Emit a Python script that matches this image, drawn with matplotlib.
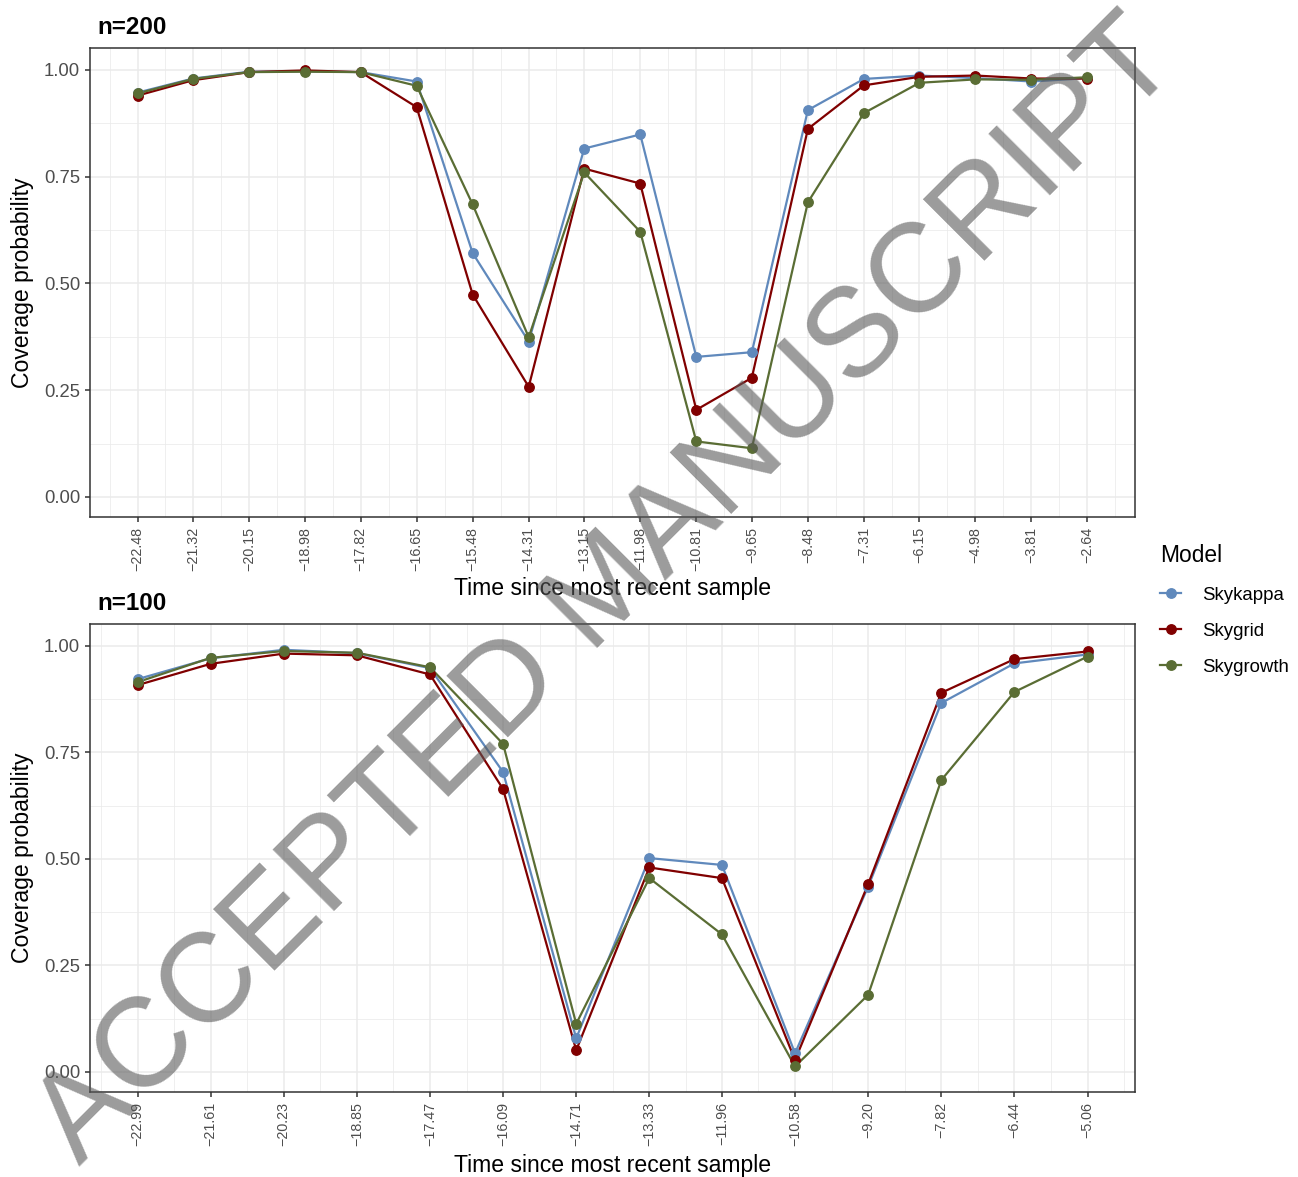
import numpy as np
import matplotlib
matplotlib.use('Agg')
import matplotlib.pyplot as plt
from matplotlib.lines import Line2D

plt.rcParams['font.family'] = ['Liberation Sans', 'DejaVu Sans']
plt.rcParams['axes.unicode_minus'] = True

models = ['Skykappa', 'Skygrid', 'Skygrowth']
colors = ['#6089BC', '#800000', '#5A6D34']

# n=200 panel
times_200 = [-22.48, -21.32, -20.15, -18.98, -17.82, -16.65, -15.48, -14.31, -13.15,
             -11.98, -10.81, -9.65, -8.48, -7.31, -6.15, -4.98, -3.81, -2.64]
tick_labels_200 = ['\u221222.48', '\u221221.32', '\u221220.15', '\u221218.98', '\u221217.82',
                   '\u221216.65', '\u221215.48', '\u221214.31', '\u221213.15', '\u221211.98',
                   '\u221210.81', '\u22129.65', '\u22128.48', '\u22127.31', '\u22126.15',
                   '\u22124.98', '\u22123.81', '\u22122.64']
skykappa_200 = [0.947, 0.980, 0.996, 0.997, 0.995, 0.973, 0.571, 0.364, 0.816,
                0.849, 0.328, 0.339, 0.906, 0.979, 0.987, 0.981, 0.973, 0.981]
skygrid_200 = [0.940, 0.976, 0.995, 0.999, 0.995, 0.913, 0.474, 0.258, 0.769,
               0.734, 0.204, 0.279, 0.862, 0.964, 0.984, 0.987, 0.980, 0.980]
skygrowth_200 = [0.945, 0.979, 0.995, 0.996, 0.995, 0.963, 0.685, 0.374, 0.760,
                 0.621, 0.130, 0.114, 0.690, 0.899, 0.970, 0.978, 0.977, 0.983]

# n=100 panel
times_100 = [-22.99, -21.61, -20.23, -18.85, -17.47, -16.09, -14.71, -13.33,
             -11.96, -10.58, -9.20, -7.82, -6.44, -5.06]
tick_labels_100 = ['\u221222.99', '\u221221.61', '\u221220.23', '\u221218.85', '\u221217.47',
                   '\u221216.09', '\u221214.71', '\u221213.33', '\u221211.96', '\u221210.58',
                   '\u22129.20', '\u22127.82', '\u22126.44', '\u22125.06']
skykappa_100 = [0.922, 0.971, 0.991, 0.983, 0.948, 0.704, 0.079, 0.502,
                0.486, 0.044, 0.435, 0.866, 0.959, 0.980]
skygrid_100 = [0.908, 0.958, 0.982, 0.978, 0.933, 0.664, 0.051, 0.480,
               0.455, 0.028, 0.441, 0.890, 0.969, 0.987]
skygrowth_100 = [0.915, 0.972, 0.988, 0.984, 0.950, 0.770, 0.113, 0.455,
                 0.323, 0.013, 0.181, 0.685, 0.892, 0.975]

W, H = 1298, 1177
fig = plt.figure(figsize=(W / 100, H / 100), dpi=100)


def px_axes(left, top, right, bottom):
    return fig.add_axes([left / W, 1 - bottom / H, (right - left) / W, (bottom - top) / H])


def draw_panel(ax, times, labels, series):
    times = np.array(times)
    for vals, col in zip(series, colors):
        ax.plot(times, vals, color=col, lw=1.6, zorder=3)
    for vals, col in zip(series, colors):
        ax.plot(times, vals, 'o', color=col, ms=6.8, mec=col, zorder=4)
    span = times[-1] - times[0]
    ax.set_xlim(times[0] - 0.05 * span, times[-1] + 0.05 * span)
    ax.set_ylim(-0.047, 1.0515)
    ax.set_xticks(times)
    ax.set_xticklabels(labels, rotation=90, fontsize=10.3, color='#4D4D4D')
    step = np.diff(times).mean()
    minors = np.concatenate([[times[0] - step / 2], (times[:-1] + times[1:]) / 2,
                             [times[-1] + step / 2]])
    ax.set_xticks(minors, minor=True)
    ax.set_yticks([0, 0.25, 0.5, 0.75, 1.0])
    ax.set_yticklabels(['0.00', '0.25', '0.50', '0.75', '1.00'], fontsize=13.3, color='#4D4D4D')
    ax.set_yticks([0.125, 0.375, 0.625, 0.875], minor=True)
    ax.grid(True, which='major', color='#EBEBEB', lw=1.1, zorder=0)
    ax.grid(True, which='minor', color='#EBEBEB', lw=0.55, zorder=0)
    ax.set_axisbelow(True)
    ax.tick_params(which='major', length=3.6, width=1.1, color='#333333', pad=3.5)
    ax.tick_params(which='minor', length=0)
    for sp in ax.spines.values():
        sp.set_color('#333333')
        sp.set_linewidth(1.1)
    ax.set_ylabel('Coverage probability', fontsize=16.6)
    ax.yaxis.set_label_coords(-0.054, 0.5)
    ax.set_xlabel('Time since most recent sample', fontsize=16.6)


ax1 = px_axes(90, 48, 1135, 517)
draw_panel(ax1, times_200, tick_labels_200, [skykappa_200, skygrid_200, skygrowth_200])
ax1.xaxis.set_label_coords(0.5, -0.128)
fig.text(97 / W, 1 - 28 / H, 'n=200', fontsize=17.4, fontweight='bold', va='center', ha='left')

ax2 = px_axes(90, 624, 1135, 1092)
draw_panel(ax2, times_100, tick_labels_100, [skykappa_100, skygrid_100, skygrowth_100])
ax2.xaxis.set_label_coords(0.5, -0.132)
fig.text(97 / W, 1 - 604 / H, 'n=100', fontsize=17.4, fontweight='bold', va='center', ha='left')

handles = [Line2D([], [], color=c, lw=1.6, marker='o', ms=6.8) for c in colors]
leg = fig.legend(handles, models, title='Model', loc='upper left',
                 bbox_to_anchor=(1151 / W, 1 - 535 / H), frameon=False,
                 fontsize=13.4, title_fontsize=16.4, handlelength=1.1,
                 handletextpad=1.15, labelspacing=1.03, borderpad=0, alignment='left')

# watermark
fig.text(0.468, 0.497, 'ACCEPTED MANUSCRIPT', rotation=45, fontsize=91,
         color='0.35', alpha=0.6, ha='center', va='center', rotation_mode='anchor', zorder=10)

fig.savefig('out.png', dpi=100)
